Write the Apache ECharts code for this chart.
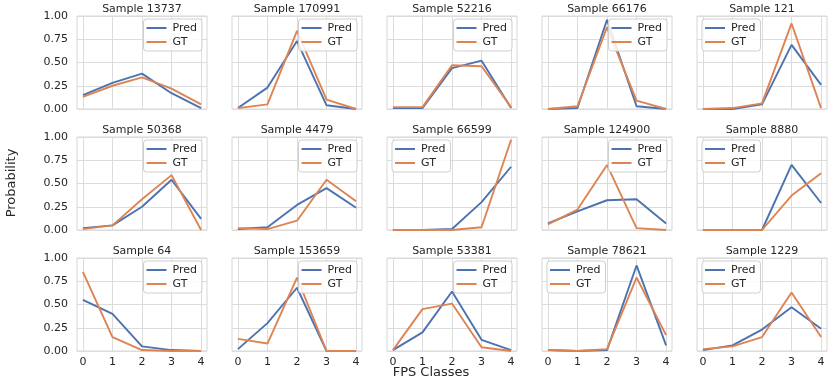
<!DOCTYPE html>
<html>
<head>
<meta charset="utf-8">
<script src="https://cdn.jsdelivr.net/npm/echarts@6/dist/echarts.min.js"></script>
<style>
  html, body { margin: 0; padding: 0; background: #fff; }
  #chart { width: 831px; height: 384px; }
</style>
</head>
<body>
<div id="chart"></div>
<script>
  // FPS classes on the x axis
  const classes = [0, 1, 2, 3, 4]
  const yTicks = [0, 0.25, 0.5, 0.75, 1]
  const samples = ['13737', '170991', '52216', '66176', '121',
                   '50368', '4479', '66599', '124900', '8880',
                   '64', '153659', '53381', '78621', '1229']
  const pred = [
    [0.15, 0.28, 0.38, 0.17, 0.01],
    [0.01, 0.23, 0.73, 0.04, 0.00],
    [0.01, 0.01, 0.44, 0.52, 0.01],
    [0.00, 0.01, 0.96, 0.03, 0.00],
    [0.00, 0.00, 0.05, 0.69, 0.26],
    [0.02, 0.05, 0.25, 0.54, 0.12],
    [0.01, 0.03, 0.27, 0.45, 0.24],
    [0.00, 0.00, 0.01, 0.30, 0.68],
    [0.07, 0.20, 0.32, 0.33, 0.07],
    [0.00, 0.00, 0.00, 0.70, 0.29],
    [0.55, 0.40, 0.05, 0.01, 0.00],
    [0.02, 0.30, 0.68, 0.00, 0.00],
    [0.01, 0.20, 0.64, 0.12, 0.01],
    [0.01, 0.00, 0.01, 0.92, 0.06],
    [0.01, 0.06, 0.23, 0.47, 0.24]
  ]
  const gt = [
    [0.13, 0.25, 0.34, 0.22, 0.05],
    [0.01, 0.05, 0.84, 0.10, 0.00],
    [0.02, 0.02, 0.47, 0.46, 0.02],
    [0.00, 0.03, 0.88, 0.09, 0.00],
    [0.00, 0.01, 0.06, 0.92, 0.01],
    [0.01, 0.05, 0.33, 0.59, 0.00],
    [0.02, 0.01, 0.10, 0.54, 0.31],
    [0.00, 0.00, 0.00, 0.03, 0.97],
    [0.06, 0.22, 0.70, 0.02, 0.00],
    [0.00, 0.00, 0.00, 0.37, 0.61],
    [0.85, 0.15, 0.01, 0.00, 0.00],
    [0.13, 0.08, 0.79, 0.00, 0.00],
    [0.01, 0.45, 0.51, 0.04, 0.00],
    [0.01, 0.00, 0.02, 0.79, 0.17],
    [0.02, 0.05, 0.15, 0.63, 0.15]
  ]
  // legend corner per panel: 'r' upper right, 'l' upper left
  const legendSide = ['r', 'r', 'r', 'r', 'l',
                      'r', 'r', 'l', 'r', 'l',
                      'r', 'r', 'r', 'l', 'l']

  const W = 831
  const lefts = [77, 232, 387, 542, 697]
  const tops = [16, 137, 258]
  const gw = 130, gh = 93
  const txt = '#262626'
  const font = 'DejaVu Sans'

  const grid = [], xAxis = [], yAxis = [], series = [], title = [], legend = []

  samples.forEach((s, i) => {
    const row = Math.floor(i / 5), col = i % 5
    const L = lefts[col], T = tops[row]
    grid.push({
      left: L, top: T, width: gw, height: gh,
      show: true, backgroundColor: '#fff', borderColor: '#d6d6d6', borderWidth: 1
    })
    xAxis.push({
      type: 'value', gridIndex: i, min: -0.2, max: 4.2,
      axisLine: { show: false },
      axisTick: { show: false, customValues: classes },
      axisLabel: { show: row === 2, customValues: classes, color: txt, fontSize: 11, fontFamily: font, margin: 6 },
      splitLine: { show: true, lineStyle: { color: '#dcdcdc', width: 1 } }
    })
    yAxis.push({
      type: 'value', gridIndex: i, min: 0, max: 1, interval: 0.25,
      axisLine: { show: false }, axisTick: { show: false },
      axisLabel: { show: col === 0, color: txt, fontSize: 11, fontFamily: font, margin: 9,
        formatter: v => v.toFixed(2) },
      splitLine: { show: true, lineStyle: { color: '#dcdcdc', width: 1 } }
    })
    series.push({
      name: 'Pred', type: 'line', xAxisIndex: i, yAxisIndex: i,
      data: classes.map((c, k) => [c, pred[i][k]]),
      symbol: 'none', lineStyle: { color: '#4c72b0', width: 1.9 }, itemStyle: { color: '#4c72b0' }
    })
    series.push({
      name: 'GT', type: 'line', xAxisIndex: i, yAxisIndex: i,
      data: classes.map((c, k) => [c, gt[i][k]]),
      symbol: 'none', lineStyle: { color: '#dd8452', width: 1.9 }, itemStyle: { color: '#dd8452' }
    })
    title.push({
      text: 'Sample ' + s, left: L + gw / 2, textAlign: 'center', top: T - 12, padding: 0,
      textStyle: { fontSize: 11, fontWeight: 'normal', color: txt, fontFamily: font }
    })
    const lg = {
      data: ['Pred', 'GT'], orient: 'vertical', top: T + 3,
      icon: 'rect', itemWidth: 20, itemHeight: 2, itemGap: 2,
      padding: [3, 5, 3, 3], borderColor: '#cfcfcf', borderWidth: 1, borderRadius: 3,
      backgroundColor: 'rgba(255,255,255,0.85)',
      selectedMode: false,
      textStyle: { fontSize: 11, lineHeight: 12, color: txt, fontFamily: font, padding: [0, 0, 0, 1] }
    }
    if (legendSide[i] === 'r') lg.right = W - (L + gw - 5)
    else lg.left = L + 5
    legend.push(lg)
  })

  title.push({
    text: 'FPS Classes', left: 431, textAlign: 'center', top: 366, padding: 0,
    textStyle: { fontSize: 13, fontWeight: 'normal', color: txt, fontFamily: font }
  })

  const chart = echarts.init(document.getElementById('chart'), null, { renderer: 'canvas' })
  chart.setOption({
    animation: false,
    backgroundColor: '#fff',
    title, legend, grid, xAxis, yAxis, series,
    graphic: [{
      type: 'text', x: 12, y: 183, rotation: Math.PI / 2,
      style: { text: 'Probability', fill: txt, fontSize: 13, fontFamily: font,
        textAlign: 'center', textVerticalAlign: 'middle' }
    }]
  })
</script>
</body>
</html>
